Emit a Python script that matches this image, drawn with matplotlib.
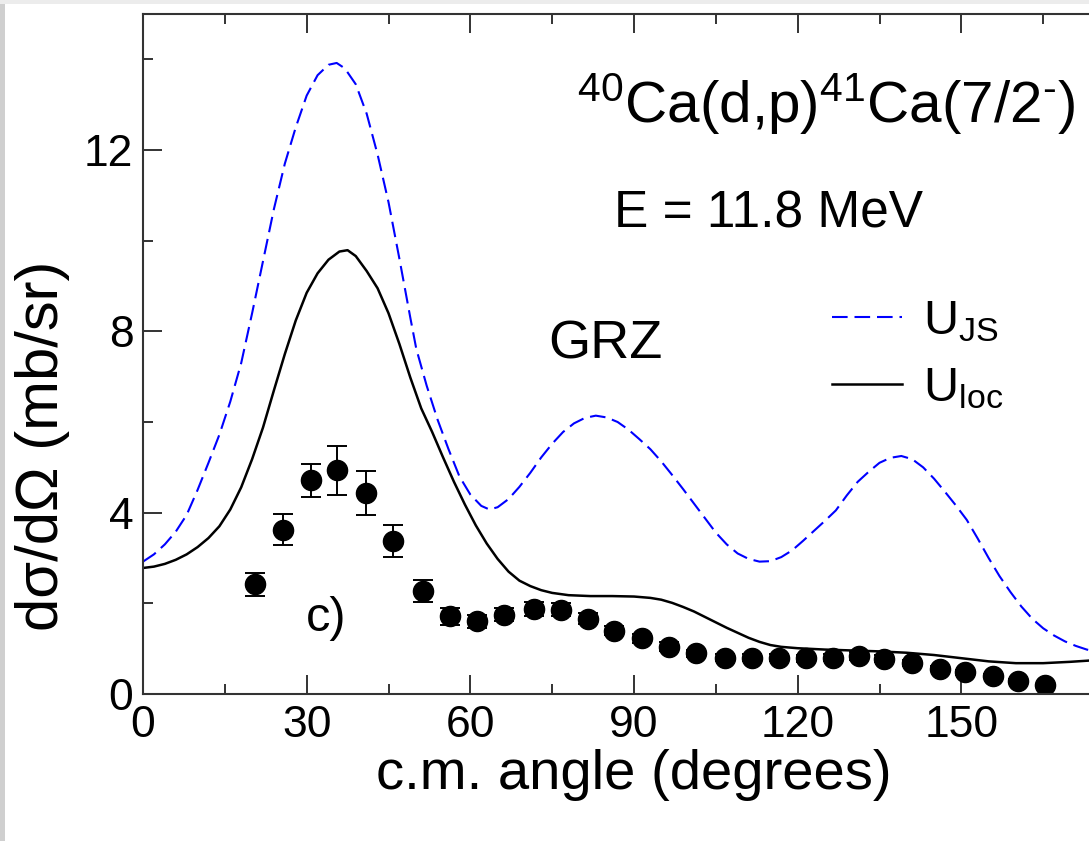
import numpy as np
import matplotlib
matplotlib.use("Agg")
import matplotlib.pyplot as plt
from matplotlib.patches import Rectangle
from matplotlib.ticker import MultipleLocator

plt.rcParams['font.family'] = 'Liberation Sans'
plt.rcParams['mathtext.fontset'] = 'custom'
plt.rcParams['mathtext.rm'] = 'Liberation Sans'
plt.rcParams['mathtext.it'] = 'Liberation Sans:italic'
plt.rcParams['mathtext.bf'] = 'Liberation Sans:bold'

# U_JS (blue dashed)
js_angle = [0, 2, 4, 6, 8, 10, 12, 14, 16, 18, 20, 22, 24, 26, 28, 30, 32, 34, 35.5,
            37, 39, 41, 43, 45, 47, 49, 50.1, 52, 54, 56, 58, 60, 62, 63.5, 65, 67,
            69, 71, 73, 75, 77, 79, 81, 83, 85, 87, 89, 91, 93, 95, 97, 99, 101, 103,
            105, 107, 109, 111, 113, 115, 117, 119, 121, 123, 125, 127, 129, 131, 133,
            135, 137, 139, 141, 143, 145, 147, 149, 151, 153, 155, 157, 159, 161, 163,
            165, 167, 169, 171, 173, 175]
js_xs = [2.92, 3.08, 3.30, 3.58, 3.95, 4.50, 5.10, 5.72, 6.45, 7.30, 8.40, 9.55, 10.70,
         11.70, 12.50, 13.20, 13.65, 13.88, 13.92, 13.80, 13.45, 12.80, 11.90, 10.85,
         9.60, 8.30, 7.61, 6.80, 6.05, 5.40, 4.80, 4.40, 4.15, 4.07, 4.12, 4.30, 4.57,
         4.88, 5.22, 5.52, 5.78, 5.97, 6.09, 6.14, 6.10, 6.00, 5.83, 5.62, 5.40, 5.13,
         4.83, 4.52, 4.20, 3.88, 3.56, 3.30, 3.10, 2.98, 2.92, 2.93, 3.02, 3.17, 3.38,
         3.60, 3.82, 4.05, 4.38, 4.68, 4.90, 5.10, 5.21, 5.25, 5.18, 5.00, 4.75, 4.46,
         4.16, 3.84, 3.43, 3.00, 2.60, 2.25, 1.93, 1.66, 1.45, 1.29, 1.16, 1.06, 0.98,
         0.93]

# U_loc (black solid)
loc_angle = [0, 2, 4, 6, 8, 10, 12, 14, 16, 18, 20, 22, 24, 26, 28, 30, 32, 34, 36,
             37.5, 39, 41, 43, 45, 47, 49, 51, 53, 55, 57, 59, 61, 63, 65, 67, 69, 71,
             73, 75, 78, 82, 86, 90, 93, 95, 97, 99, 101, 103, 105, 107, 109, 111, 113,
             115, 117, 120, 125, 130, 135, 140, 145, 150, 155, 160, 165, 170, 175]
loc_xs = [2.78, 2.81, 2.87, 2.96, 3.08, 3.24, 3.44, 3.70, 4.07, 4.56, 5.18, 5.88, 6.70,
          7.50, 8.24, 8.85, 9.28, 9.58, 9.76, 9.79, 9.66, 9.33, 8.95, 8.40, 7.72, 6.98,
          6.30, 5.78, 5.22, 4.68, 4.18, 3.72, 3.32, 2.98, 2.70, 2.50, 2.38, 2.29, 2.23,
          2.18, 2.16, 2.16, 2.15, 2.12, 2.08, 2.01, 1.92, 1.82, 1.70, 1.58, 1.46, 1.35,
          1.24, 1.15, 1.08, 1.04, 1.01, 0.98, 0.96, 0.94, 0.91, 0.86, 0.79, 0.72, 0.68,
          0.68, 0.71, 0.75]

# experimental data
exp_angle = [20.5, 25.6, 30.8, 35.6, 40.8, 45.8, 51.4, 56.3, 61.3, 66.2, 71.6, 76.6,
             81.6, 86.4, 91.5, 96.4, 101.3, 106.7, 111.7, 116.6, 121.5, 126.4, 131.2,
             135.8, 141.0, 146.0, 150.7, 155.8, 160.3, 165.3]
exp_xs = [2.42, 3.62, 4.71, 4.94, 4.44, 3.38, 2.28, 1.71, 1.60, 1.75, 1.88, 1.86,
          1.66, 1.40, 1.23, 1.04, 0.90, 0.80, 0.80, 0.80, 0.79, 0.80, 0.84, 0.78,
          0.69, 0.56, 0.48, 0.40, 0.28, 0.20]
exp_err = [0.26, 0.34, 0.36, 0.54, 0.49, 0.35, 0.24, 0.18, 0.15, 0.15, 0.15, 0.15,
           0.12, 0.10, 0.10, 0.10, 0.08, 0.08, 0.08, 0.08, 0.08, 0.08, 0.08, 0.08,
           0.07, 0.06, 0.05, 0.05, 0.04, 0.03]

fig = plt.figure(figsize=(10.89, 8.41), dpi=100)
fig.add_artist(Rectangle((0, 0), 5 / 1089, 1, transform=fig.transFigure,
                         color='#cfcfcf', lw=0))
fig.add_artist(Rectangle((0, 1 - 4 / 841), 1, 4 / 841, transform=fig.transFigure,
                         color='#ececec', lw=0))

ax = fig.add_axes([143 / 1089, 147 / 841, 982 / 1089, 680 / 841])

ax.plot(js_angle, js_xs, color='blue', lw=1.5, dashes=(7.5, 3.3), label=r'U$_{\rm JS}$')
ax.plot(loc_angle, loc_xs, color='black', lw=1.8, label=r'U$_{\rm loc}$')
ax.errorbar(exp_angle, exp_xs, yerr=exp_err, fmt='o', color='black', ms=14.5,
            capsize=7.5, elinewidth=1.4, capthick=1.4)

ax.set_xlim(0, 180)
ax.set_ylim(0, 15)
ax.set_xticks([0, 30, 60, 90, 120, 150])
ax.xaxis.set_minor_locator(MultipleLocator(15))
ax.yaxis.set_major_locator(MultipleLocator(4))
ax.yaxis.set_minor_locator(MultipleLocator(2))
ax.tick_params(which='both', direction='in', top=True, right=True, width=1.4,
               color='#333333', labelsize=32)
ax.tick_params(which='major', length=14)
ax.tick_params(which='minor', length=7.5)
ax.tick_params(axis='x', pad=8)
ax.tick_params(axis='y', pad=7)
for s in ax.spines.values():
    s.set_linewidth(1.5)
    s.set_color('#333333')

ax.set_xlabel('c.m. angle (degrees)', fontsize=40.5, labelpad=2)
ax.set_ylabel('dσ/dΩ (mb/sr)', fontsize=43, ha='center', va='center',
              rotation_mode='default')
ax.yaxis.set_label_coords(-100 / 982, (694 - 446) / 680)

ax.text(170.9, 12.6, r'$^{40}$Ca(d,p)$^{41}$Ca(7/2$^{\text{-}}$)', fontsize=42,
        ha='right', va='baseline')
ax.text(86.3, 10.28, 'E = 11.8 MeV', fontsize=37, ha='left', va='baseline')
ax.text(74.2, 7.41, 'GRZ', fontsize=39, ha='left', va='baseline')
ax.text(29.8, 1.40, 'c)', fontsize=35, ha='left', va='baseline')

ax.legend(loc='upper left', bbox_to_anchor=(126.3 / 180, (694 - 299) / 680),
          frameon=False, fontsize=35, handlelength=1.44, handletextpad=0.43,
          labelspacing=0.45, borderpad=0, borderaxespad=0)

fig.savefig('out.png', dpi=100)
